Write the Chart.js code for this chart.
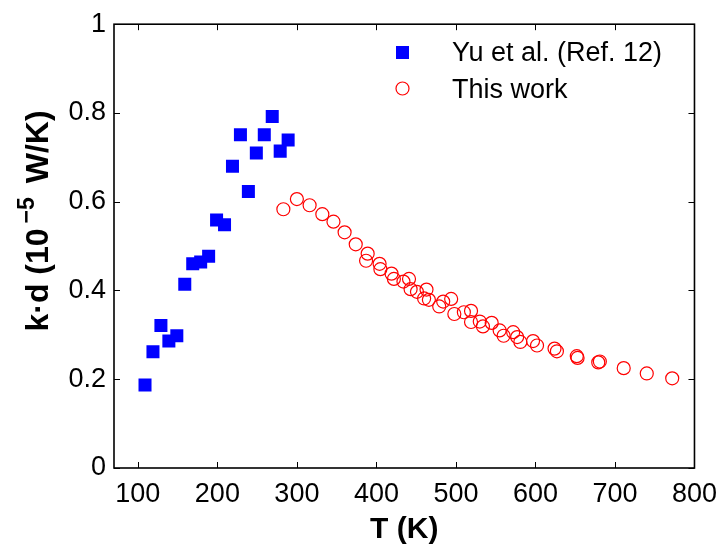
<!DOCTYPE html>
<html>
<head>
<meta charset="utf-8">
<script src="https://cdn.jsdelivr.net/npm/chart.js@4.4.0/dist/chart.umd.min.js"></script>
<style>
  html, body { margin: 0; padding: 0; background: #fff; }
  #wrap { width: 727px; height: 550px; }
</style>
</head>
<body>
<div id="wrap"><canvas id="myChart" width="727" height="550"></canvas></div>
<script>
// Yu et al. (Ref. 12)
var yuT = [109, 119, 129, 139, 149, 159, 169, 179, 189, 199, 209, 219, 229, 239, 249, 259, 269, 279, 289];
var yuK = [0.187, 0.262, 0.321, 0.286, 0.298, 0.414, 0.460, 0.464, 0.477, 0.559, 0.548, 0.680, 0.751, 0.623, 0.710, 0.751, 0.792, 0.714, 0.739];

// This work
var workT = [283, 300, 316, 332, 346, 360, 374, 389, 387, 404, 405, 419, 422, 434, 441, 443, 451, 463, 460, 466,
             479, 484, 494, 498, 510, 519, 519, 530, 534, 545, 555, 560, 572, 577, 581, 597, 602, 624, 627, 652,
             653, 679, 681, 711, 740, 772];
var workK = [0.583, 0.606, 0.592, 0.572, 0.555, 0.531, 0.504, 0.483, 0.467, 0.460, 0.448, 0.438, 0.426, 0.420, 0.426, 0.403, 0.397, 0.402, 0.382, 0.379,
             0.364, 0.375, 0.381, 0.347, 0.351, 0.354, 0.329, 0.330, 0.319, 0.327, 0.310, 0.298, 0.306, 0.295, 0.284, 0.286, 0.276, 0.269, 0.263, 0.252,
             0.248, 0.238, 0.240, 0.225, 0.213, 0.202];

var xTicks = [100, 200, 300, 400, 500, 600, 700, 800];
var yTicks = [0, 0.2, 0.4, 0.6, 0.8, 1];
var seriesNames = ["Yu et al. (Ref. 12)", "This work"];

function toPoints(xs, ys) {
  var pts = [];
  for (let i = 0; i < xs.length; i++) {
    pts.push({ x: xs[i], y: ys[i] });
  }
  return pts;
}

var FONT = "'Liberation Sans', Helvetica, Arial, sans-serif";

// box, inward ticks, legend and axis titles (MATLAB look)
var matlabLook = {
  id: "matlabLook",
  afterDraw: function (chart) {
    var ctx = chart.ctx;
    var a = chart.chartArea;
    var xs = chart.scales.x, ys = chart.scales.y;
    ctx.save();
    ctx.strokeStyle = "#000";
    ctx.lineWidth = 1;
    var tl = 6;
    xTicks.forEach(function (v) {
      var px = Math.round(xs.getPixelForValue(v)) + 0.5;
      ctx.beginPath();
      ctx.moveTo(px, a.bottom); ctx.lineTo(px, a.bottom - tl);
      ctx.moveTo(px, a.top); ctx.lineTo(px, a.top + tl);
      ctx.stroke();
    });
    yTicks.forEach(function (v) {
      var py = Math.round(ys.getPixelForValue(v)) + 0.5;
      ctx.beginPath();
      ctx.moveTo(a.left, py); ctx.lineTo(a.left + tl, py);
      ctx.moveTo(a.right, py); ctx.lineTo(a.right - tl, py);
      ctx.stroke();
    });
    ctx.lineWidth = 1.6;
    ctx.strokeRect(a.left, a.top, a.right - a.left, a.bottom - a.top);

    // legend
    ctx.fillStyle = "#0000ff";
    ctx.fillRect(396, 46, 13, 13);
    ctx.strokeStyle = "#ff0000";
    ctx.lineWidth = 1.2;
    ctx.beginPath();
    ctx.arc(402.5, 88.5, 6.5, 0, Math.PI * 2);
    ctx.stroke();
    ctx.fillStyle = "#000";
    ctx.font = "27px " + FONT;
    ctx.textAlign = "left";
    ctx.textBaseline = "alphabetic";
    ctx.fillText(seriesNames[0], 452, 61);
    ctx.fillText(seriesNames[1], 452, 98);

    // x title
    ctx.font = "bold 30px " + FONT;
    ctx.textAlign = "center";
    ctx.fillText("T (K)", (a.left + a.right) / 2, 538);

    // y title with superscript
    ctx.translate(48, 221);
    ctx.rotate(-Math.PI / 2);
    var p1 = "k\u00b7d (10", p2 = "\u22125", p3 = " W/K)";
    var gap = 5;
    ctx.font = "bold 32px " + FONT;
    var w1 = ctx.measureText(p1).width, w3 = ctx.measureText(p3).width;
    ctx.font = "bold 23px " + FONT;
    var w2 = ctx.measureText(p2).width;
    var x0 = -(w1 + w2 + w3 + 2 * gap) / 2;
    ctx.textAlign = "left";
    ctx.font = "bold 32px " + FONT;
    ctx.fillText(p1, x0, 0);
    ctx.font = "bold 23px " + FONT;
    ctx.fillText(p2, x0 + w1 + gap, -14);
    ctx.font = "bold 32px " + FONT;
    ctx.fillText(p3, x0 + w1 + w2 + 2 * gap, 0);
    ctx.restore();
  }
};

new Chart("myChart", {
  type: "scatter",
  data: {
    datasets: [{
      label: seriesNames[0],
      data: toPoints(yuT, yuK),
      pointStyle: "rect",
      pointRadius: 9.2,
      pointHoverRadius: 9.2,
      backgroundColor: "#0000ff",
      borderColor: "#0000ff",
      borderWidth: 0
    }, {
      label: seriesNames[1],
      data: toPoints(workT, workK),
      pointStyle: "circle",
      pointRadius: 6.5,
      pointHoverRadius: 6.5,
      backgroundColor: "rgba(0,0,0,0)",
      borderColor: "#ff0000",
      borderWidth: 1.2
    }]
  },
  options: {
    responsive: false,
    animation: false,
    layout: { padding: { top: 20, right: 27, left: 0, bottom: 0 } },
    plugins: {
      legend: { display: false },
      tooltip: { enabled: false }
    },
    scales: {
      x: {
        type: "linear",
        min: 70,
        max: 800,
        afterFit: function (s) { s.height = 82; },
        afterBuildTicks: function (s) { s.ticks = xTicks.map(function (v) { return { value: v }; }); },
        grid: { display: false, drawTicks: false },
        border: { display: false },
        ticks: {
          color: "#000",
          font: { family: FONT, size: 27 },
          padding: 10,
          maxRotation: 0
        }
      },
      y: {
        type: "linear",
        min: 0,
        max: 1,
        afterFit: function (s) { s.width = 114; },
        afterBuildTicks: function (s) { s.ticks = yTicks.map(function (v) { return { value: v }; }); },
        grid: { display: false, drawTicks: false },
        border: { display: false },
        ticks: {
          color: "#000",
          font: { family: FONT, size: 27 },
          padding: 8,
          callback: function (v) { return String(v); }
        }
      }
    }
  },
  plugins: [matlabLook]
});
</script>
</body>
</html>
